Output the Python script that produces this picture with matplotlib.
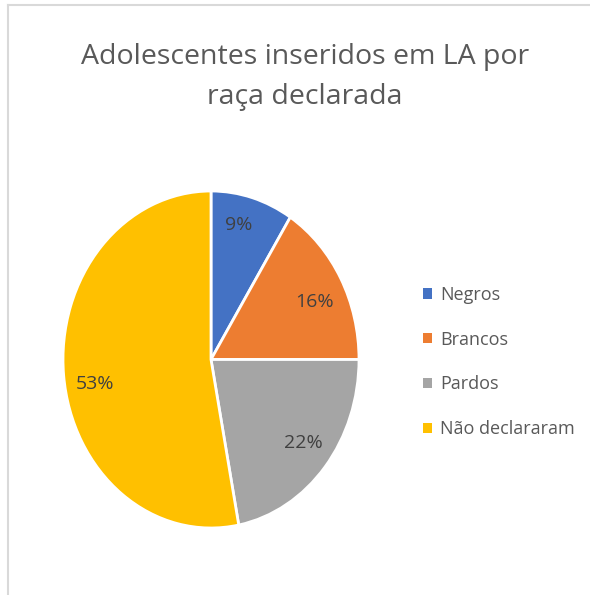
import matplotlib
matplotlib.use("Agg")
import numpy as np
import matplotlib.pyplot as plt
from matplotlib.patches import Patch
from matplotlib.lines import Line2D

categories = ["Negros", "Brancos", "Pardos", "Não declararam"]
values = [9, 16, 22, 53]
colors = ["#4472C4", "#ED7D31", "#A5A5A5", "#FFC000"]
title = "Adolescentes inseridos em LA por\nraça declarada"

# label placement tweaks (angle shift in degrees, radial distance)
label_shift = [2.8, -2.7, 1.1, 5.1]
label_dist = [0.82, 0.775, 0.80, 0.80]

plt.rcParams['font.family'] = ['Open Sans', 'DejaVu Sans']
txt = "#595959"

fig = plt.figure(figsize=(5.9, 5.95), dpi=100)

# frame lines of the chart area
fig.add_artist(Line2D([8/590, 1], [1-5/595, 1-5/595], color="#D9D9D9", lw=1.5))
fig.add_artist(Line2D([8/590, 8/590], [0, 1-5/595], color="#D9D9D9", lw=1.5))

ax = fig.add_axes([63/590, 67/595, 296/590, 337/595])
wedges, texts, autotexts = ax.pie(
    values, colors=colors, startangle=90, counterclock=False,
    autopct=lambda p: f"{p:.0f}%", pctdistance=0.8,
    wedgeprops=dict(edgecolor="white", linewidth=2),
    textprops=dict(color="#404040", fontsize=14))
ax.set_aspect('auto')
ax.set_xlim(-1, 1)
ax.set_ylim(-1, 1)
for w, t, s, d in zip(wedges, autotexts, label_shift, label_dist):
    w.set_clip_on(False)
    mid = np.deg2rad((w.theta1 + w.theta2) / 2 + s)
    t.set_position((d * np.cos(mid), d * np.sin(mid)))

fig.text(305/590, 1-77/595, title, ha="center", va="center", fontsize=20.5,
         color=txt, linespacing=1.55)

handles = [Patch(facecolor=c, edgecolor="none") for c in colors]
leg = fig.legend(handles, categories, loc="upper left",
                 bbox_to_anchor=(423/590, 1-286/595), frameon=False,
                 borderpad=0, borderaxespad=0,
                 fontsize=13, labelcolor=txt, handlelength=0.5, handleheight=0.5,
                 handletextpad=0.45, labelspacing=1.48)

fig.savefig("out.png", dpi=100)
